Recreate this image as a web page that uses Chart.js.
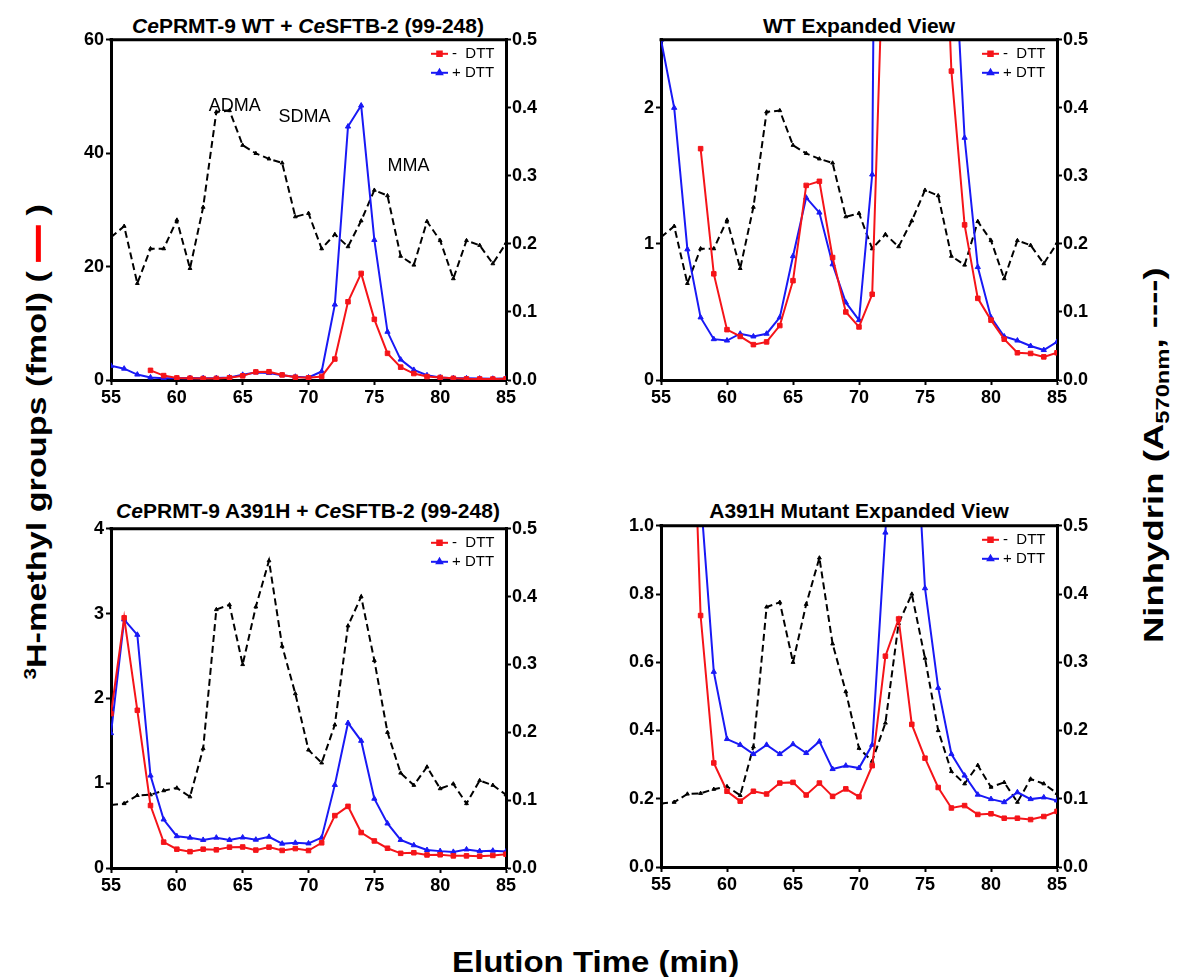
<!DOCTYPE html>
<html><head><meta charset="utf-8">
<script src="https://cdn.jsdelivr.net/npm/chart.js@4.4.1/dist/chart.umd.min.js"></script>
<style>
html,body{margin:0;padding:0;background:#fff;}
body{width:1183px;height:977px;position:relative;overflow:hidden;font-family:"Liberation Sans",Arial,sans-serif;}
canvas{position:absolute;}
.title{position:absolute;font-weight:bold;font-size:21px;line-height:21px;white-space:nowrap;text-align:center;color:#000;width:500px;}
.lab{position:absolute;font-weight:bold;white-space:nowrap;color:#000;transform-origin:center center;line-height:1.2;}
</style></head><body>
<div class="title" style="left:58px;top:15px;"><i>Ce</i>PRMT-9 WT + <i>Ce</i>SFTB-2 (99-248)</div>
<div class="title" style="left:609px;top:15px;">WT Expanded View</div>
<div class="title" style="left:58px;top:500px;"><i>Ce</i>PRMT-9 A391H + <i>Ce</i>SFTB-2 (99-248)</div>
<div class="title" style="left:609px;top:500px;">A391H Mutant Expanded View</div>
<div class="lab" id="ylab" style="font-size:28px;"><sup style="font-size:0.6em">3</sup>H-methyl groups (fmol) ( <span style="display:inline-block;width:30px;height:5px;background:#f00;vertical-align:middle;"></span> )</div>
<div class="lab" id="y2lab" style="font-size:28px;">Ninhydrin (A<sub style="font-size:0.65em">570nm</sub>, ----)</div>
<div class="lab" id="xlab" style="font-size:30px;">Elution Time (min)</div>
<canvas id="c1"></canvas><canvas id="c2"></canvas><canvas id="c3"></canvas><canvas id="c4"></canvas>
<script>
// ---- data ----
const times = [55,56,57,58,59,60,61,62,63,64,65,66,67,68,69,70,71,72,73,74,75,76,77,78,79,80,81,82,83,84,85];
const wtMinusDTT = [null,null,null,1.70,0.78,0.37,0.32,0.26,0.28,0.40,0.73,1.43,1.46,0.90,0.50,0.39,0.63,3.7,13.8,18.8,10.7,4.7,2.27,1.14,0.60,0.44,0.30,0.20,0.195,0.17,0.20];
const wtPlusDTT = [2.5,2.0,0.96,0.46,0.30,0.29,0.34,0.32,0.34,0.46,0.91,1.34,1.23,0.85,0.57,0.44,1.51,13.3,44.7,48.4,24.7,8.5,3.6,1.78,0.83,0.46,0.32,0.29,0.25,0.22,0.28];
const wtNinhydrin = [0.210,0.226,0.142,0.193,0.193,0.235,0.164,0.254,0.394,0.396,0.345,0.333,0.325,0.319,0.240,0.245,0.193,0.214,0.196,0.234,0.279,0.271,0.182,0.169,0.233,0.205,0.149,0.205,0.198,0.171,0.201];
const mutMinusDTT = [1.82,2.95,1.86,0.737,0.305,0.222,0.193,0.222,0.214,0.246,0.248,0.211,0.246,0.207,0.229,0.206,0.297,0.618,0.727,0.418,0.319,0.233,0.173,0.18,0.154,0.156,0.143,0.143,0.139,0.148,0.163];
const mutPlusDTT = [1.59,2.93,2.75,1.09,0.572,0.375,0.358,0.331,0.358,0.331,0.36,0.334,0.368,0.287,0.297,0.29,0.358,0.98,1.71,1.50,0.817,0.525,0.331,0.268,0.212,0.199,0.19,0.219,0.199,0.204,0.195];
const mutNinhydrin = [0.093,0.095,0.107,0.108,0.114,0.118,0.105,0.176,0.381,0.388,0.300,0.385,0.453,0.327,0.257,0.174,0.155,0.211,0.357,0.400,0.306,0.200,0.140,0.122,0.149,0.117,0.124,0.095,0.129,0.122,0.108];
const legendLabels = ['-  DTT', '+ DTT'];
const peakLabels = ['ADMA', 'SDMA', 'MMA'];
const peakX = [64.4, 69.7, 77.6];
const peakY = [48.4, 46.3, 37.7];

// ---- rendering ----
const FONT = '"Liberation Sans", Arial, sans-serif';
const RED = 'rgb(245,20,25)', BLUE = 'rgb(25,25,245)';

function pairs(vals){ return times.map((t,i)=>({x:t, y:vals[i]})); }

const cornerLegend = {
  id:'cornerLegend',
  afterDatasetsDraw(chart){
    const ctx = chart.ctx, a = chart.chartArea;
    let row = 0;
    chart.data.datasets.forEach(ds=>{
      if(!ds.legendText) return;
      const y = a.top + 14 + row*19;
      const x0 = a.right - 75;
      ctx.save();
      ctx.strokeStyle = ds.borderColor; ctx.fillStyle = ds.borderColor; ctx.lineWidth = 2;
      ctx.beginPath(); ctx.moveTo(x0,y); ctx.lineTo(x0+17,y); ctx.stroke();
      Chart.helpers.drawPoint(ctx,{pointStyle:ds.pointStyle, radius:ds.pointRadius, borderWidth:1, rotation:0}, x0+8.5, y);
      ctx.fillStyle = '#000'; ctx.font = '15px ' + FONT; ctx.textBaseline = 'middle'; ctx.textAlign = 'left';
      ctx.fillText(ds.legendText, a.right - 54, y);
      ctx.restore();
      row++;
    });
  }
};
const frame = {
  id:'frame',
  afterDraw(chart){
    const ctx = chart.ctx, a = chart.chartArea;
    ctx.save(); ctx.strokeStyle = '#000'; ctx.lineWidth = 3; ctx.lineCap = 'square';
    ctx.beginPath(); ctx.moveTo(a.left, a.top); ctx.lineTo(a.right, a.top); ctx.stroke();
    ctx.restore();
  }
};
const peakText = {
  id:'peakText',
  afterDatasetsDraw(chart, args, opts){
    if(!opts || !opts.show) return;
    const ctx = chart.ctx, xs = chart.scales.x, ys = chart.scales.y;
    ctx.save(); ctx.fillStyle = '#000'; ctx.font = '18px ' + FONT; ctx.textAlign = 'center'; ctx.textBaseline = 'middle';
    peakLabels.forEach((t,i)=> ctx.fillText(t, xs.getPixelForValue(peakX[i]), ys.getPixelForValue(peakY[i])));
    ctx.restore();
  }
};

function tickFont(){ return {family:FONT, size:18, weight:'bold'}; }

function makePanel(id, box, red, blue, black, yMax, yStep, yFmt, showPeaks){
  const cv = document.getElementById(id);
  cv.width = box.R - box.L + 110; cv.height = box.B - box.T + 44;
  cv.style.left = (box.L - 55) + 'px'; cv.style.top = (box.T - 12) + 'px';
  new Chart(cv, {
    type:'line',
    data:{ datasets:[
      {data:pairs(red), borderColor:RED, backgroundColor:RED, borderWidth:2, pointStyle:'rect', pointRadius:3.2, pointBorderWidth:1, yAxisID:'y', legendText:legendLabels[0], tension:0},
      {data:pairs(blue), borderColor:BLUE, backgroundColor:BLUE, borderWidth:2, pointStyle:'triangle', pointRadius:3, pointBorderWidth:1, yAxisID:'y', legendText:legendLabels[1], tension:0},
      {data:pairs(black), borderColor:'#000', backgroundColor:'#000', borderWidth:2, borderDash:[7,4], pointStyle:'triangle', pointRadius:2.2, pointBorderWidth:1, yAxisID:'y1', tension:0}
    ]},
    options:{
      responsive:false, animation:false, devicePixelRatio:1,
      layout:{padding:{top:12,left:0,right:0,bottom:0}},
      plugins:{legend:{display:false}, tooltip:{enabled:false}, peakText:{show:showPeaks}},
      scales:{
        x:{type:'linear', min:55, max:85,
           ticks:{stepSize:5, font:tickFont(), color:'#000', padding:2, maxRotation:0, autoSkip:false},
           grid:{drawOnChartArea:false, drawTicks:true, tickLength:5, tickWidth:2, tickColor:'#000', color:'#000'},
           border:{display:true, color:'#000', width:3},
           afterFit(s){ s.height = 32; }},
        y:{type:'linear', position:'left', min:0, max:yMax,
           ticks:{stepSize:yStep, font:tickFont(), color:'#000', padding:2, includeBounds:false, callback:v=>yFmt(v)},
           grid:{drawOnChartArea:false, drawTicks:true, tickLength:5, tickWidth:2, tickColor:'#000', color:'#000'},
           border:{display:true, color:'#000', width:3},
           afterFit(s){ s.width = 55; }},
        y1:{type:'linear', position:'right', min:0, max:0.5,
           ticks:{stepSize:0.1, font:tickFont(), color:'#000', padding:1, callback:v=>v.toFixed(1)},
           grid:{drawOnChartArea:false, drawTicks:true, tickLength:5, tickWidth:2, tickColor:'#000', color:'#000'},
           border:{display:true, color:'#000', width:3},
           afterFit(s){ s.width = 55; }}
      }
    },
    plugins:[cornerLegend, frame, peakText]
  });
}

const intFmt = v => String(Math.round(v));
const dec1 = v => v.toFixed(1);
makePanel('c1', {L:111,R:506,T:39,B:380}, wtMinusDTT, wtPlusDTT, wtNinhydrin, 60, 20, intFmt, true);
makePanel('c2', {L:661,R:1057,T:39,B:380}, wtMinusDTT, wtPlusDTT, wtNinhydrin, 2.5, 1, intFmt, false);
makePanel('c3', {L:111,R:506,T:528,B:868}, mutMinusDTT, mutPlusDTT, mutNinhydrin, 4, 1, intFmt, false);
makePanel('c4', {L:661,R:1057,T:525,B:867}, mutMinusDTT, mutPlusDTT, mutNinhydrin, 1.0, 0.2, dec1, false);

function place(id, cx, cy, len, rot){
  const el = document.getElementById(id);
  const w = el.offsetWidth, h = el.offsetHeight;
  el.style.left = (cx - w/2) + 'px'; el.style.top = (cy - h/2) + 'px';
  el.style.transform = (rot ? 'rotate(-90deg) ' : '') + 'scaleX(' + (len/w) + ')';
}
place('ylab', 36, 442, 475, true);
place('y2lab', 1156, 455, 376, true);
place('xlab', 595, 962, 287, false);
</script>
</body></html>
